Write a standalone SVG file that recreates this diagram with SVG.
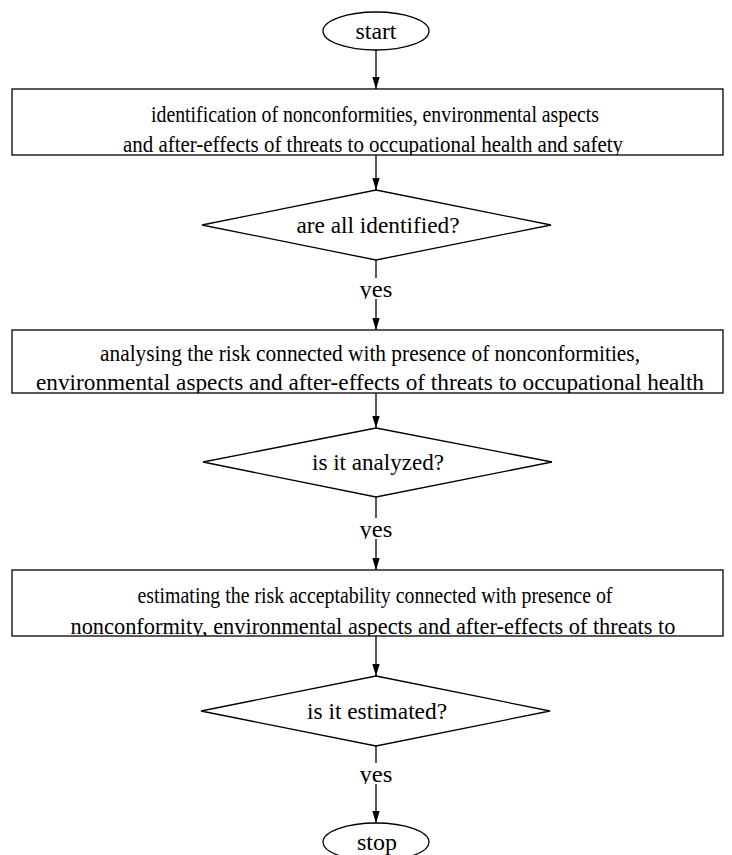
<svg xmlns="http://www.w3.org/2000/svg" width="732" height="855" viewBox="0 0 732 855">
<style>
.s{fill:#fff;stroke:#000;stroke-width:1.3}
.t{font-family:"Liberation Serif","Times New Roman",serif;font-size:23px;fill:#000;text-anchor:middle}
.e{stroke:#000;stroke-width:1.3;fill:none}
</style>
<defs>
<marker id="ah" viewBox="0 0 12 8" refX="12" refY="4" markerWidth="12" markerHeight="8" markerUnits="userSpaceOnUse" orient="auto">
<path d="M0,0.3 L12,4 L0,7.7 z" fill="#000"/>
</marker>
<clipPath id="c1"><rect x="12" y="89" width="711" height="66"/></clipPath>
<clipPath id="c2"><rect x="12" y="330" width="711" height="63"/></clipPath>
<clipPath id="c3"><rect x="12" y="570" width="711" height="66"/></clipPath>
<clipPath id="y1"><rect x="300" y="270" width="150" height="29"/></clipPath>
<clipPath id="y2"><rect x="300" y="510" width="150" height="29"/></clipPath>
<clipPath id="y3"><rect x="300" y="755" width="150" height="29"/></clipPath>
</defs>
<rect width="732" height="855" fill="#fff"/>
<g id="connectors">
<line class="e" x1="376" y1="50" x2="376" y2="89" marker-end="url(#ah)"/>
<line class="e" x1="376" y1="155" x2="376" y2="190" marker-end="url(#ah)"/>
<line class="e" x1="376" y1="260" x2="376" y2="278"/>
<line class="e" x1="376" y1="299" x2="376" y2="330" marker-end="url(#ah)"/>
<text class="t" x="376" y="297" textLength="33" lengthAdjust="spacingAndGlyphs" clip-path="url(#y1)">yes</text>
<line class="e" x1="376" y1="393" x2="376" y2="428" marker-end="url(#ah)"/>
<line class="e" x1="376" y1="497" x2="376" y2="518"/>
<line class="e" x1="376" y1="539" x2="376" y2="570" marker-end="url(#ah)"/>
<text class="t" x="376" y="537" textLength="33" lengthAdjust="spacingAndGlyphs" clip-path="url(#y2)">yes</text>
<line class="e" x1="376" y1="636" x2="376" y2="676" marker-end="url(#ah)"/>
<line class="e" x1="376" y1="746" x2="376" y2="763"/>
<line class="e" x1="376" y1="784" x2="376" y2="823" marker-end="url(#ah)"/>
<text class="t" x="376" y="782" textLength="33" lengthAdjust="spacingAndGlyphs" clip-path="url(#y3)">yes</text>
</g>
<g id="start">
<ellipse class="s" cx="376" cy="31" rx="53" ry="19"/>
<text class="t" x="376" y="39" textLength="41" lengthAdjust="spacingAndGlyphs">start</text>
</g>
<g id="identify">
<rect class="s" x="12" y="89" width="711" height="66"/>
<g clip-path="url(#c1)">
<text class="t" x="375" y="122" textLength="448" lengthAdjust="spacingAndGlyphs">identification of nonconformities, environmental aspects</text>
<text class="t" x="373" y="152" textLength="500" lengthAdjust="spacingAndGlyphs">and after-effects of threats to occupational health and safety</text>
</g>
</g>
<g id="q1">
<polygon class="s" points="376,190 551,225 376,260 202,225"/>
<text class="t" x="378" y="233" textLength="163" lengthAdjust="spacingAndGlyphs">are all identified?</text>
</g>
<g id="analyse">
<rect class="s" x="12" y="330" width="711" height="63"/>
<g clip-path="url(#c2)">
<text class="t" x="370" y="361" textLength="540" lengthAdjust="spacingAndGlyphs">analysing the risk connected with presence of nonconformities,</text>
<text class="t" x="370" y="390" textLength="668" lengthAdjust="spacingAndGlyphs">environmental aspects and after-effects of threats to occupational health</text>
</g>
</g>
<g id="q2">
<polygon class="s" points="376,428 552,462 376,497 203,462"/>
<text class="t" x="378" y="470" textLength="132" lengthAdjust="spacingAndGlyphs">is it analyzed?</text>
</g>
<g id="estimate">
<rect class="s" x="12" y="570" width="711" height="66"/>
<g clip-path="url(#c3)">
<text class="t" x="375" y="603" textLength="475" lengthAdjust="spacingAndGlyphs">estimating the risk acceptability connected with presence of</text>
<text class="t" x="373" y="634" textLength="605" lengthAdjust="spacingAndGlyphs">nonconformity, environmental aspects and after-effects of threats to</text>
</g>
</g>
<g id="q3">
<polygon class="s" points="376,676 550,711 376,746 201,711"/>
<text class="t" x="377" y="719" textLength="140" lengthAdjust="spacingAndGlyphs">is it estimated?</text>
</g>
<g id="stop">
<ellipse class="s" cx="376" cy="842" rx="53" ry="19"/>
<text class="t" x="377" y="850" textLength="40" lengthAdjust="spacingAndGlyphs">stop</text>
</g>
</svg>
